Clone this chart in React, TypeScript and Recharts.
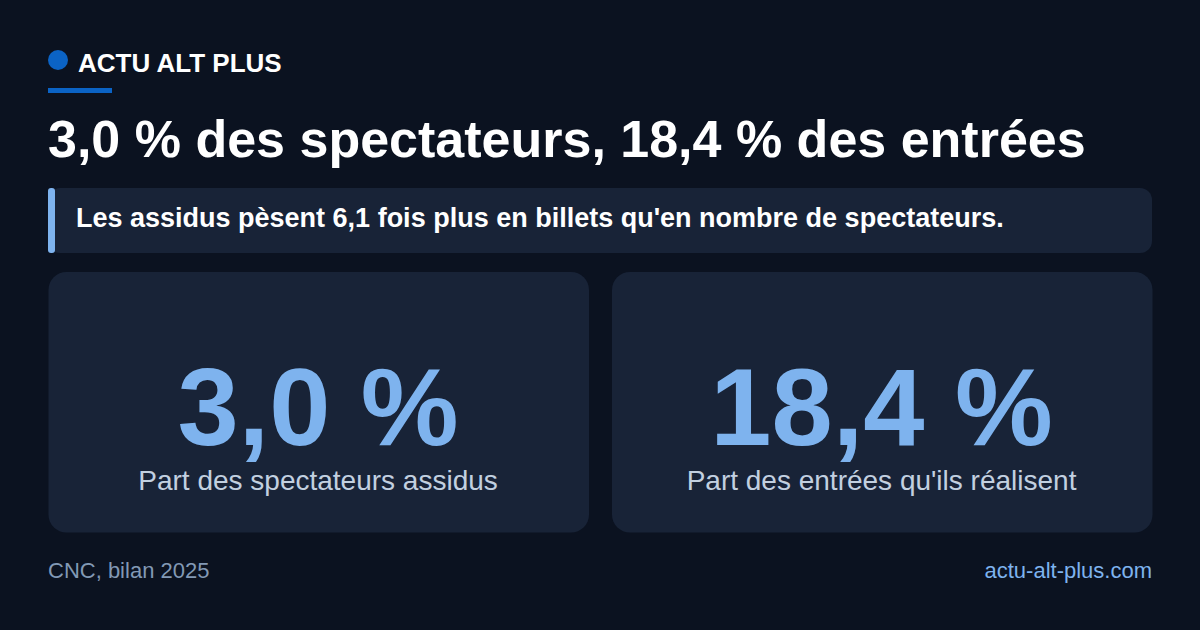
import { Bar, BarChart, LabelList, XAxis, YAxis } from 'recharts';

const categories = ['Part des spectateurs assidus', "Part des entrées qu'ils réalisent"];
const shares = [3.0, 18.4];

const chartData = categories.map((label, i) => ({ label, share: shares[i], slot: 1 }));
const formatShare = (v: number) => `${v.toFixed(1).replace('.', ',')} %`;
const font = '"Liberation Sans", Arial, sans-serif';

function Card(props: any) {
  const { x, y, width, height } = props;
  return <rect x={x} y={y} width={width} height={height} rx={18} ry={18} fill="#182337" />;
}

function ShareLabel(props: any) {
  const { x, width, value } = props;
  return (
    <text x={x + width / 2 - 0.7} y={445} textAnchor="middle" fontFamily={font} fontWeight={700} fontSize={110} fill="#7eb3ee">
      {formatShare(value)}
    </text>
  );
}

function CategoryLabel(props: any) {
  const { x, width, value } = props;
  return (
    <text x={x + width / 2 - 0.7} y={490} textAnchor="middle" fontFamily={font} fontSize={28} fill="#c2d0e0">
      {value}
    </text>
  );
}

export default function App() {
  return (
    <div style={{ position: 'fixed', left: 0, top: 0, width: 1200, height: 630, background: '#0b1220', fontFamily: font, overflow: 'hidden' }}>
      <div style={{ position: 'absolute', left: 48, top: 50, width: 20, height: 20, borderRadius: '50%', background: '#0b63c5' }} />
      <div style={{ position: 'absolute', left: 78, top: 47, fontSize: 26, lineHeight: '32px', fontWeight: 700, color: '#fff' }}>ACTU ALT PLUS</div>
      <div style={{ position: 'absolute', left: 48, top: 88, width: 64, height: 5, background: '#0b63c5' }} />
      <div style={{ position: 'absolute', left: 48, top: 108, fontSize: 52, lineHeight: '62px', fontWeight: 700, color: '#fff', whiteSpace: 'nowrap' }}>
        3,0 % des spectateurs, 18,4 % des entrées
      </div>
      <div style={{ position: 'absolute', left: 48, top: 188, width: 1104, height: 64.5, borderRadius: 12, background: '#182337' }} />
      <div style={{ position: 'absolute', left: 48, top: 188, width: 6.5, height: 64.5, borderRadius: 3, background: '#7eb3ee' }} />
      <div style={{ position: 'absolute', left: 76, top: 202, fontSize: 27, lineHeight: '32px', fontWeight: 700, color: '#fff', whiteSpace: 'nowrap' }}>
        Les assidus pèsent 6,1 fois plus en billets qu'en nombre de spectateurs.
      </div>
      <div style={{ position: 'absolute', left: 0, top: 0 }}>
        <BarChart width={1200} height={630} data={chartData} margin={{ top: 272, right: 36.5, bottom: 97.5, left: 36.5 }} barCategoryGap={0} barGap={0}>
          <XAxis dataKey="label" hide padding={{ left: 0, right: 0 }} />
          <YAxis hide domain={[0, 1]} />
          <Bar dataKey="slot" isAnimationActive={false} shape={<Card />} barSize={540.5}>
            <LabelList dataKey="share" content={<ShareLabel />} />
            <LabelList dataKey="label" content={<CategoryLabel />} />
          </Bar>
        </BarChart>
      </div>
      <div style={{ position: 'absolute', left: 48, top: 557, fontSize: 22, lineHeight: '27px', color: '#8299b5' }}>CNC, bilan 2025</div>
      <div style={{ position: 'absolute', right: 48, top: 557, fontSize: 22, lineHeight: '27px', color: '#7eb3ee' }}>actu-alt-plus.com</div>
    </div>
  );
}
